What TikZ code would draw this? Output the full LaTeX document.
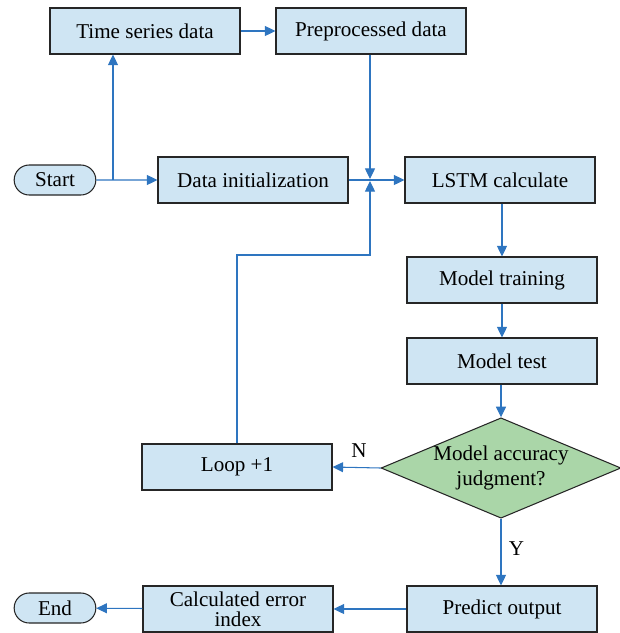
\documentclass[tikz,border=0pt]{standalone}
\usepackage{fontspec}
\setmainfont{Liberation Serif}
\usetikzlibrary{positioning, shapes.geometric, shapes.misc, arrows.meta}
\definecolor{boxblue}{HTML}{CFE5F3}
\definecolor{flowblue}{HTML}{2E75C0}
\definecolor{judgegreen}{HTML}{AAD6A8}
\tikzset{
	stepbox/.style={draw=black!85, line width=0.9pt, fill=boxblue,
			minimum width=5.7cm, minimum height=1.38cm, inner sep=1pt,
			align=center, font=\fontsize{18}{17}\selectfont}
}
\tikzset{
	termbox/.style={draw=black!85, line width=0.9pt, fill=boxblue, rounded rectangle,
			minimum width=2.52cm, minimum height=0.9cm, inner sep=1pt,
			font=\fontsize{18}{17}\selectfont}
}
\tikzset{
	judgebox/.style={draw=black!85, line width=0.9pt, fill=judgegreen, diamond,
			aspect=2.39, minimum width=6.96cm, inner sep=0pt,
			align=center, font=\fontsize{18}{21}\selectfont}
}
\tikzset{
	flow/.style={draw=flowblue, line width=0.9pt, -{Triangle[length=9pt, width=8.5pt]}},
	flowlabel/.style={font=\fontsize{18}{17}\selectfont}
}

\begin{document}
\begin{tikzpicture}[x=0.03cm, y=-0.03cm]

	\useasboundingbox (0,0) rectangle (620,633);

	% top row
	\node[stepbox] (ts) at (145,31) {Time series data};
	\node[stepbox] (pre) at (371,31) {Preprocessed data};

	% main row
	\node[termbox] (start) at (55,180) {Start};
	\node[stepbox] (init) at (253,180) {Data initialization};
	\node[stepbox] (lstm) at (500,180) {LSTM calculate};

	% right column
	\node[stepbox] (train) at (502,280) {Model training};
	\node[stepbox] (test) at (502,361) {Model test};
	\node[judgebox] (judge) at (501,468) {Model accuracy\\judgment?};
	\node[stepbox] (loop) at (237,467) {Loop +1};

	% bottom row
	\node[stepbox] (pred) at (502,609) {Predict output};
	\node[stepbox] (err) at (238,609) {Calculated error\\index};
	\node[termbox] (end) at (55,608) {End};

	\coordinate (split) at (113,180);
	\coordinate (jn) at (370,180);
	\coordinate (jnup) at (370,179);
	\coordinate (jndown) at (370,181);
	\coordinate (bend) at (237,255);

	\draw[flow] (start) -- (init);
	\draw[flow] (split) -- (split |- ts.south);
	\draw[flow] (ts) -- (pre);
	\draw[flow] (pre.south -| jn) -- (jnup);
	\draw[flow] (init) -- (lstm);
	\draw[flow] (loop.north) -- (bend) -| (jndown);

	\draw[flow] (lstm.south -| train) -- (train);
	\draw[flow] (train) -- (test);
	\draw[flow] (test.south -| judge) -- (judge.north);

	\draw[flow] (judge.west) -- (loop.east) node[pos=0.45, above=5pt, flowlabel] (nlabel) {N};
	\draw[flow] (judge.south) -- (judge.south |- pred.north) node[pos=0.45, right=3pt, flowlabel] (ylabel) {Y};
	\draw[flow] (pred) -- (err);
	\draw[flow] (err) -- (end);

\end{tikzpicture}
\end{document}
